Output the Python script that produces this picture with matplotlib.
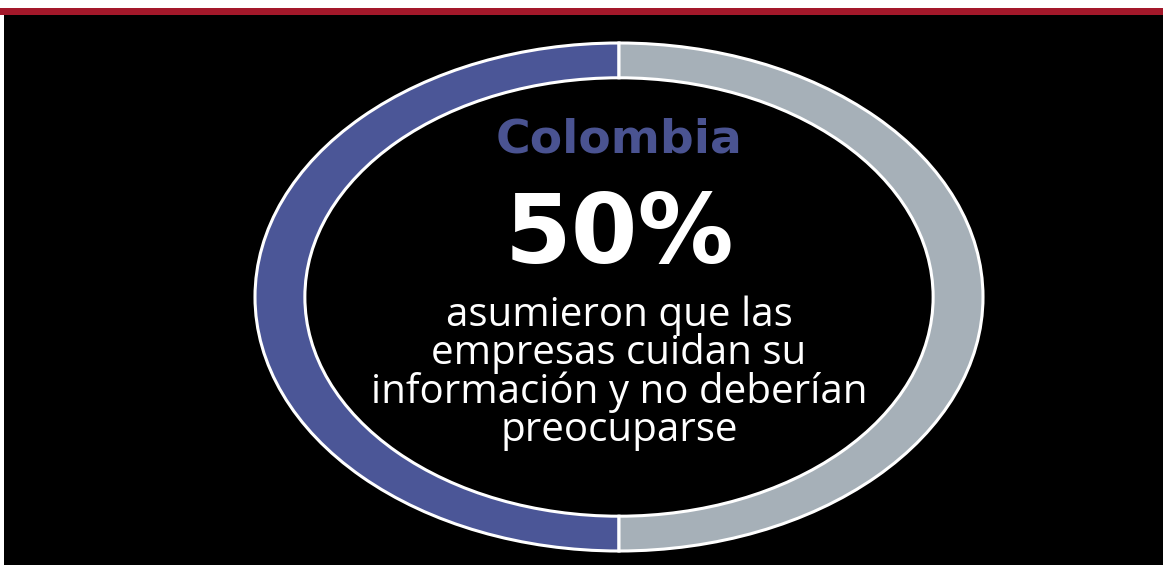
import matplotlib
matplotlib.use("Agg")
import matplotlib.pyplot as plt
from matplotlib.patches import Rectangle

# Share of respondents (Colombia)
labels = ["Asumieron que las empresas cuidan su información", "Resto"]
shares = [50, 50]
colors = ["#4b5697", "#a6b0b8"]

country = "Colombia"
headline = "50%"
caption = "asumieron que las\nempresas cuidan su\ninformación y no deberían\npreocuparse"

W, H = 1163, 565
fig = plt.figure(figsize=(W / 100, H / 100), dpi=100, facecolor="white")

# black panel and the thin red strip above it
fig.patches.append(Rectangle((4 / W, 0), 1, (H - 15) / H, transform=fig.transFigure,
                             facecolor="#000000", edgecolor="none", zorder=-10))
fig.patches.append(Rectangle((0, (H - 15) / H), 1, 7 / H, transform=fig.transFigure,
                             facecolor="#a3182a", edgecolor="none", zorder=-10))

# donut stretched to an ellipse
cx, cy, rx, ry = 619, 297, 364, 254
ax = fig.add_axes([(cx - rx) / W, (H - cy - ry) / H, 2 * rx / W, 2 * ry / H])
ax.set_facecolor("none")
ax.pie(shares, colors=colors, startangle=90, counterclock=True, radius=1,
       wedgeprops=dict(width=0.137, edgecolor="white", linewidth=2.2))
ax.set_aspect("auto")
ax.set_xlim(-1, 1)
ax.set_ylim(-1, 1)
ax.axis("off")

ax.text(0, 0.62, country, ha="center", va="center", fontsize=34,
        fontweight="bold", color="#4a5391", family="DejaVu Sans")
ax.text(0, 0.24, headline, ha="center", va="center", fontsize=69,
        fontweight="bold", color="white", family="DejaVu Sans")
ax.text(0, -0.30, caption, ha="center", va="center", fontsize=29,
        color="white", family="Open Sans", linespacing=0.91)

fig.savefig("out.png", dpi=100, facecolor=fig.get_facecolor())
